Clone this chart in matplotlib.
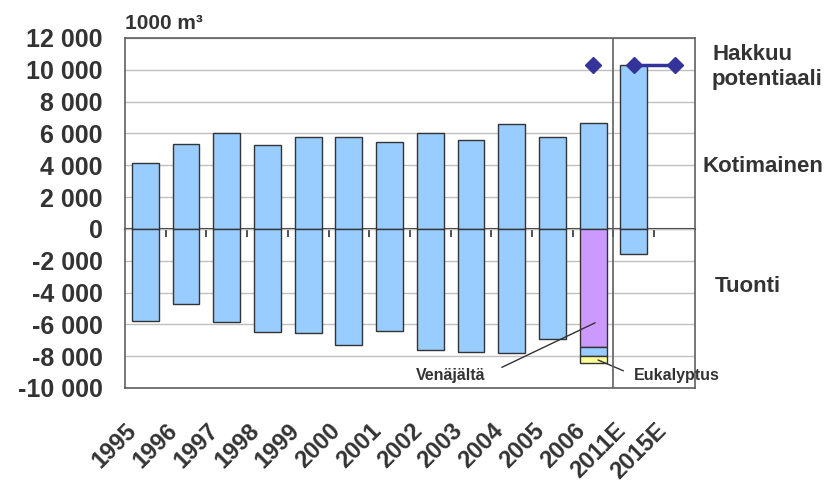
import matplotlib.pyplot as plt
import matplotlib.transforms as mtransforms
import numpy as np

plt.rcParams['font.family'] = ['Liberation Sans', 'DejaVu Sans']
plt.rcParams['font.weight'] = 'bold'

years = ['1995', '1996', '1997', '1998', '1999', '2000', '2001', '2002',
         '2003', '2004', '2005', '2006', '2011E', '2015E']
kotimainen = [4150, 5350, 6040, 5280, 5790, 5790, 5470, 6040, 5600, 6600, 5790, 6670, 10300, np.nan]
tuonti = [-5790, -4720, -5850, -6480, -6540, -7300, -6420, -7610, -7740, -7800, -6920, np.nan, -1550, np.nan]
# 2006 import split
venajalta_2006 = -7400
muu_2006 = -600
eukalyptus_2006 = -430
# Hakkuupotentiaali
pot_years = ['2006', '2011E', '2015E']
potentiaali = [10300, 10300, 10300]

txt = '#333333'
blue = '#99CCFF'
edge = '#333333'

fig = plt.figure(figsize=(8.26, 4.92), dpi=100)
ax = fig.add_axes([0.1513, 0.2114, 0.69, 0.7114])

x = np.arange(len(years))
w = 0.66
ax.bar(x, kotimainen, w, color=blue, edgecolor=edge, linewidth=1, zorder=3)
ax.bar(x, tuonti, w, color=blue, edgecolor=edge, linewidth=1, zorder=3)

i06 = years.index('2006')
ax.bar(i06, venajalta_2006, w, color='#CC99FF', edgecolor=edge, linewidth=1, zorder=3)
ax.bar(i06, muu_2006, w, bottom=venajalta_2006, color=blue, edgecolor=edge, linewidth=1, zorder=3)
ax.bar(i06, eukalyptus_2006, w, bottom=venajalta_2006 + muu_2006, color='#FFFF99',
       edgecolor=edge, linewidth=1, zorder=3)

px = [years.index(y) for y in pot_years]
ax.plot(px[0], potentiaali[0], 'D', color='#333399', markersize=8, zorder=5, clip_on=False)
ax.plot(px[1:], potentiaali[1:], '-D', color='#333399', markersize=8, linewidth=2.5, zorder=5,
        clip_on=False)

ax.set_xlim(-0.5, len(years) - 0.5)
ax.set_ylim(-10000, 12000)
ax.set_yticks(np.arange(-10000, 12001, 2000))
ax.set_yticklabels([f'{v:,}'.replace(',', ' ') for v in range(-10000, 12001, 2000)],
                   fontsize=18, color=txt)
ax.tick_params(axis='y', length=0, pad=16)
ax.set_xticks(x)
ax.set_xticklabels(years, rotation=45, ha='right', va='top', rotation_mode='anchor',
                   fontsize=17, color=txt)
ax.tick_params(axis='x', length=0, pad=20)
shift = mtransforms.ScaledTranslation(-20 / 100, -3 / 100, fig.dpi_scale_trans)
for lab in ax.get_xticklabels():
    lab.set_transform(lab.get_transform() + shift)
ax.grid(axis='y', color='#c0c0c0', linewidth=1, zorder=0)
for s in ax.spines.values():
    s.set_color('#606060')
    s.set_linewidth(1.2)

# zero line with ticks at category boundaries
sec = ax.secondary_xaxis(10000 / 22000)
sec.set_xticks(np.arange(0.5, len(years) - 1, 1.0))
sec.set_xticklabels([])
sec.tick_params(direction='out', length=6, width=1.2, color='#333333')
sec.spines['bottom'].set_color('#333333')
sec.spines['bottom'].set_linewidth(1.5)
sec.spines['bottom'].set_zorder(4)

ax.axvline(i06 + 0.5, color='#606060', linewidth=1.2, zorder=4)

ax.text(0, 1.015, '1000 m³', transform=ax.transAxes, fontsize=15, color=txt,
        ha='left', va='bottom')

ax.annotate('Venäjältä', xy=(11.05, -5900), xytext=(8.35, -9200),
            fontsize=11.5, color=txt, ha='right', va='center',
            arrowprops=dict(arrowstyle='-', color='#333333', lw=1, relpos=(1, 0.5),
                            shrinkA=11, shrinkB=0))
ax.annotate('Eukalyptus', xy=(11.12, -8240), xytext=(12.0, -9200),
            fontsize=11.5, color=txt, ha='left', va='center',
            arrowprops=dict(arrowstyle='-', color='#333333', lw=1, relpos=(0, 0.5),
                            shrinkA=6, shrinkB=0))

fig.text(712 / 826, 1 - 67 / 492, 'Hakkuu\npotentiaali', fontsize=16, color=txt,
         ha='left', va='center', linespacing=1.3)
fig.text(703 / 826, 1 - 167 / 492, 'Kotimainen', fontsize=16, color=txt, ha='left', va='center')
fig.text(715 / 826, 1 - 286 / 492, 'Tuonti', fontsize=16, color=txt, ha='left', va='center')

fig.savefig('out.png', dpi=100)
